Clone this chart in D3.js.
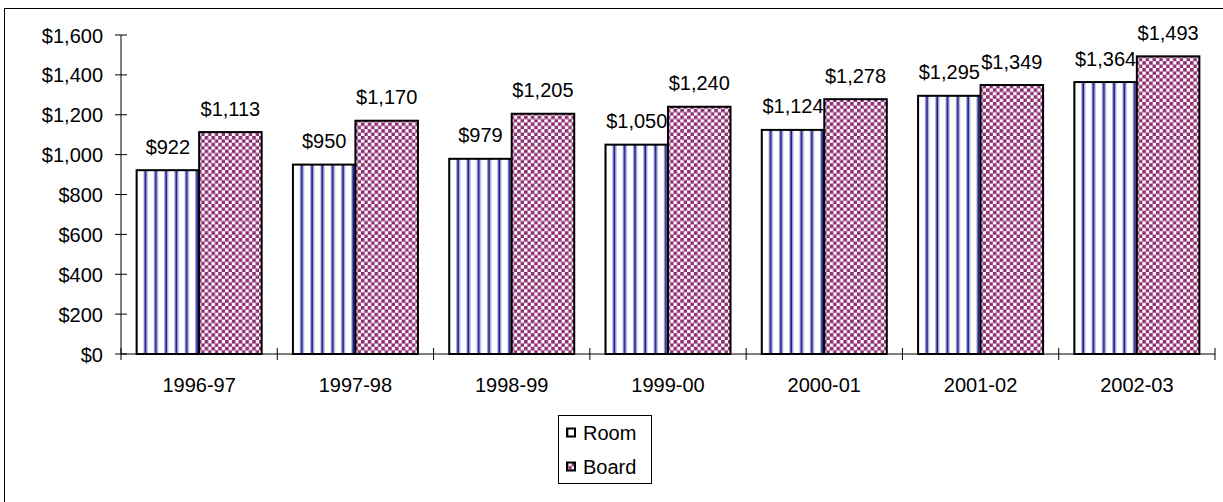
<!DOCTYPE html>
<html>
<head>
<meta charset="utf-8">
<script src="https://cdn.jsdelivr.net/npm/d3@7"></script>
<style>
  html, body { margin: 0; padding: 0; background: #fff; }
  svg { display: block; }
  text { font-family: "Liberation Sans", Arial, sans-serif; fill: #000; }
</style>
</head>
<body>
<svg id="chart" width="1223" height="502"></svg>
<script>
// Academic years, room and board charges
const years = ["1996-97", "1997-98", "1998-99", "1999-00", "2000-01", "2001-02", "2002-03"];
const room  = [922, 950, 979, 1050, 1124, 1295, 1364];
const board = [1113, 1170, 1205, 1240, 1278, 1349, 1493];
const seriesNames = ["Room", "Board"];
const yTicks = [0, 200, 400, 600, 800, 1000, 1200, 1400, 1600];

const svg = d3.select("#chart");
const W = 1223, H = 502;
const FS = 20;

const plot = { left: 121, right: 1215, top: 35, bottom: 354 };

// Patterns: vertical navy stripes for Room, purple checker for Board
const defs = svg.append("defs");
const stripe = defs.append("pattern")
  .attr("id", "stripes").attr("patternUnits", "userSpaceOnUse")
  .attr("width", 10.3).attr("height", 10).attr("x", 4);
stripe.append("rect").attr("width", 10.3).attr("height", 10).attr("fill", "#fff");
stripe.append("rect").attr("x", 3).attr("width", 1).attr("height", 10).attr("fill", "#9a9ad8");
stripe.append("rect").attr("x", 4).attr("width", 2).attr("height", 10).attr("fill", "#1c1c8c");
stripe.append("rect").attr("x", 6).attr("width", 1).attr("height", 10).attr("fill", "#9a9ad8");

const checker = defs.append("pattern")
  .attr("id", "checker").attr("patternUnits", "userSpaceOnUse")
  .attr("width", 6.8).attr("height", 6.8);
checker.append("rect").attr("width", 6.8).attr("height", 6.8).attr("fill", "#fff");
checker.append("rect").attr("width", 3.6).attr("height", 3.6).attr("fill", "#8e2d72");
checker.append("rect").attr("x", 3.4).attr("y", 3.4).attr("width", 3.6).attr("height", 3.6).attr("fill", "#8e2d72");

const fills = ["url(#stripes)", "url(#checker)"];

// Outer chart frame
svg.append("rect")
  .attr("x", 4.5).attr("y", 8.5).attr("width", W + 20).attr("height", H + 20)
  .attr("fill", "none").attr("stroke", "#000").attr("stroke-width", 1);

// Scales
const y = d3.scaleLinear().domain([0, 1600]).range([plot.bottom, plot.top]);
const bandW = (plot.right - plot.left) / years.length;
const barW = bandW / 2.5;

// Bars
const data = years.map((yr, i) => ({ yr, vals: [room[i], board[i]] }));
const groups = svg.append("g").selectAll("g").data(data).join("g")
  .attr("transform", (d, i) => `translate(${plot.left + i * bandW + bandW * 0.1},0)`);

groups.selectAll("rect").data(d => d.vals).join("rect")
  .attr("x", (d, j) => j * barW)
  .attr("y", d => y(d))
  .attr("width", barW)
  .attr("height", d => y(0) - y(d))
  .attr("fill", (d, j) => fills[j])
  .attr("stroke", "#000").attr("stroke-width", 2);

// Value labels
const fmt = d3.format("$,");
groups.selectAll("text.val").data(d => d.vals).join("text")
  .attr("class", "val")
  .attr("x", (d, j) => j * barW + barW / 2)
  .attr("y", d => y(d) - 16.5)
  .attr("text-anchor", "middle")
  .attr("font-size", FS)
  .text(d => fmt(d));

// Y axis
const yAxis = svg.append("g").attr("transform", `translate(${plot.left},0)`);
yAxis.append("line").attr("x1", 0).attr("x2", 0).attr("y1", y(1600)).attr("y2", y(0)).attr("stroke", "#000");
yAxis.selectAll("line.tick").data(yTicks).join("line").attr("class", "tick")
  .attr("x1", -6).attr("x2", 6).attr("y1", d => y(d)).attr("y2", d => y(d)).attr("stroke", "#000");
yAxis.selectAll("text").data(yTicks).join("text")
  .attr("x", -18).attr("y", d => y(d) + 7.5)
  .attr("text-anchor", "end").attr("font-size", FS)
  .text(d => fmt(d));

// X axis
const xAxis = svg.append("g");
xAxis.append("line").attr("x1", plot.left).attr("x2", plot.right).attr("y1", y(0)).attr("y2", y(0)).attr("stroke", "#000");
d3.range(years.length + 1).forEach(i => {
  const xx = plot.left + i * bandW;
  xAxis.append("line").attr("x1", xx).attr("x2", xx).attr("y1", y(0) - 6).attr("y2", y(0) + 6).attr("stroke", "#000");
});
xAxis.selectAll("text").data(years).join("text")
  .attr("x", (d, i) => plot.left + (i + 0.5) * bandW)
  .attr("y", y(0) + 38)
  .attr("text-anchor", "middle").attr("font-size", FS)
  .text(d => d);

// Legend
const lg = svg.append("g").attr("transform", "translate(558,415)");
lg.append("rect").attr("x", 0.5).attr("y", 0.5).attr("width", 93).attr("height", 68)
  .attr("fill", "#fff").attr("stroke", "#000");
seriesNames.forEach((name, i) => {
  const cy = 18 + i * 34;
  lg.append("rect").attr("x", 9).attr("y", cy - 4.5).attr("width", 8).attr("height", 8)
    .attr("fill", fills[i]).attr("stroke", "#000").attr("stroke-width", 2);
  lg.append("text").attr("x", 25).attr("y", cy + 7).attr("font-size", FS).text(name);
});
</script>
</body>
</html>
